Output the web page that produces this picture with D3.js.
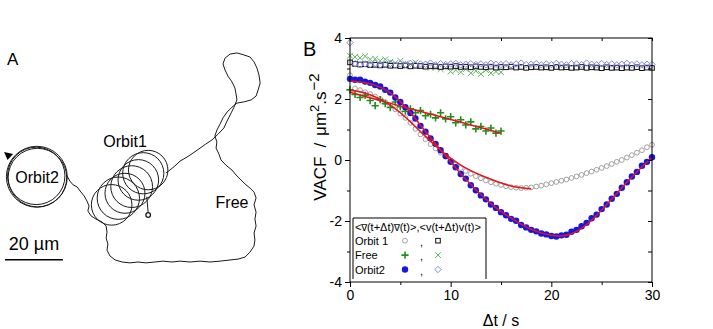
<!DOCTYPE html>
<html>
<head>
<meta charset="utf-8">
<script src="https://cdn.jsdelivr.net/npm/d3@7"></script>
<style>
  body { margin: 0; background: #fff; }
  svg { display: block; font-family: Arial, 'Liberation Sans', sans-serif; }
</style>
</head>
<body>
<div id="chart"></div>
<script>
// ---- panel A : trajectory, in µm ----
var freePath = [
  [23.1,50.3],[24.1,52.1],[25.2,53.4],[26.6,54.1],[27.6,55.5],[29.0,57.2],[30.0,59.0],[30.7,60.7],
  [30.3,62.4],[31.4,64.1],[33.1,65.2],[35.2,66.2],[36.6,67.6],[36.9,69.7],[36.6,71.7],[37.2,73.8],
  [36.9,75.9],[37.9,77.9],[39.7,79.3],[42.1,80.0],[44.8,80.3],[47.6,80.0],[50.3,80.3],[53.4,80.0],
  [56.2,79.7],[59.3,80.0],[62.1,79.7],[65.5,80.0],[69.0,79.7],[72.4,80.0],[75.9,79.7],[79.3,79.3],
  [82.1,79.0],[84.5,78.3],[86.2,76.6],[87.6,74.5],[87.9,72.4],[87.6,70.0],[88.3,67.6],[87.9,65.2],
  [88.3,62.8],[87.6,60.3],[88.3,57.9],[87.6,55.9],[86.2,54.5],[84.5,53.1],[82.8,51.4],[81.4,50.0],
  [80.0,48.3],[77.9,46.6],[76.2,44.8],[75.5,42.8],[74.5,40.7],[74.8,38.6],[74.1,36.6],[74.8,34.5],
  [75.9,32.4],[76.9,30.3],[78.3,28.3],[80.0,26.6],[81.7,25.2],[84.1,24.8],[86.6,24.1],[88.3,22.8],
  [89.0,20.7],[89.7,18.3],[89.3,15.5],[88.6,13.1],[87.6,11.0],[86.2,9.3],[84.1,8.6],[81.7,7.9],
  [79.3,8.3],[77.6,9.7],[76.9,11.7],[77.6,13.8],[78.6,15.9],[80.0,17.9],[81.0,20.0],[81.4,22.1],
  [81.7,24.1],[80.7,26.6],[79.7,28.6],[78.3,31.4],[77.2,33.8],[75.2,35.9],[73.1,37.9],[71.0,39.3],
  [68.6,41.0],[66.6,42.4],[64.5,43.8],[62.1,45.2],[60.3,46.9],[58.6,48.3],[57.2,49.3]
];
var orbit2Loops = [[12.7,50.6,10.5],[12.9,50.9,10.1],[12.5,50.3,9.9]];
var orbit1Loops = [[38.5,60.3,7.0],[40.8,58.0,7.3],[43.1,56.3,6.9],[45.4,54.0,7.2],
                   [47.7,51.7,7.0],[49.4,49.4,7.1],[51.1,48.3,6.8]];
var startPoint = [51.1,63.8];
var startStem = [[51.1,63.0],[50.6,57.5]];
var arrowHead = [[1.4,42.1],[4.5,42.8],[2.6,44.8]];
var scaleBarUm = 20;

// ---- panel B : VACF ----
var lagStep = 0.5;
var orbit1Vbar = [2.78,2.35,2.29,2.22,2.16,2.08,2.0,1.9,1.79,1.66,1.52,1.38,1.22,1.02,0.84,0.68,0.52,0.38,0.24,0.11,
  -0.02,-0.15,-0.26,-0.36,-0.45,-0.53,-0.6,-0.67,-0.73,-0.78,-0.82,-0.86,-0.89,-0.91,-0.92,-0.91,-0.9,-0.87,-0.84,-0.8,
  -0.76,-0.72,-0.68,-0.64,-0.59,-0.54,-0.49,-0.43,-0.38,-0.32,-0.26,-0.2,-0.13,-0.06,0.0,0.08,0.16,0.24,0.32,0.42,0.5];
var orbit1Vel = [3.2,3.15,3.13,3.14,3.11,3.12,3.1,3.12,3.09,3.1,3.08,3.1,3.07,3.09,3.08,3.06,3.08,3.07,3.05,3.07,
  3.06,3.08,3.05,3.06,3.04,3.07,3.05,3.04,3.06,3.03,3.05,3.04,3.06,3.03,3.05,3.02,3.04,3.05,3.03,3.04,
  3.02,3.05,3.03,3.04,3.02,3.03,3.05,3.02,3.04,3.03,3.01,3.04,3.02,3.03,3.01,3.03,3.02,3.04,3.01,3.03,3.02];
var freeVbar = [2.3,2.15,2.05,2.12,1.95,1.78,1.98,1.85,1.72,1.9,1.75,1.6,1.68,1.55,1.62,1.45,1.5,1.38,1.55,1.35,
  1.42,1.22,1.32,1.15,1.25,1.02,1.1,0.95,1.05,0.88,0.95];
var freeVel = [3.42,3.38,3.35,3.4,3.3,3.32,3.25,3.3,3.22,3.18,3.25,3.15,3.12,3.2,3.08,3.1,3.02,3.05,2.98,3.05,
  2.9,2.95,2.88,2.98,2.85,2.92,2.82,2.95,2.85,2.9,2.88];
var orbit2Vbar = [2.66,2.63,2.63,2.57,2.53,2.46,2.41,2.3,2.21,2.05,1.9,1.73,1.54,1.36,1.12,0.93,0.71,0.53,0.32,0.13,
  -0.06,-0.24,-0.46,-0.61,-0.83,-0.99,-1.16,-1.29,-1.46,-1.57,-1.71,-1.81,-1.93,-1.99,-2.13,-2.21,-2.29,-2.34,-2.41,-2.44,
  -2.49,-2.51,-2.47,-2.45,-2.35,-2.29,-2.17,-2.06,-1.91,-1.79,-1.61,-1.46,-1.27,-1.11,-0.91,-0.73,-0.54,-0.39,-0.19,-0.06,0.09];
var orbit2Vel = [3.85,3.16,3.12,3.15,3.13,3.17,3.12,3.14,3.16,3.11,3.15,3.13,3.17,3.12,3.15,3.14,3.18,3.12,3.16,3.13,
  3.15,3.17,3.12,3.14,3.16,3.13,3.15,3.12,3.17,3.14,3.13,3.16,3.12,3.15,3.18,3.13,3.14,3.16,3.12,3.15,
  3.13,3.17,3.14,3.12,3.16,3.15,3.13,3.18,3.14,3.12,3.16,3.13,3.15,3.12,3.14,3.17,3.13,3.15,3.12,3.14,3.13];

var orbit1FitT = [0,1,2,3,4,5,6,7,8,9,10,11,12,13,14,15,16,17,18];
var orbit1Fit = [2.28,2.24,2.14,1.99,1.8,1.55,1.25,0.93,0.62,0.32,0.06,-0.17,-0.35,-0.5,-0.63,-0.75,-0.85,-0.91,-0.94];
var freeFitT = [0,3,6,9,12,15];
var freeFit = [2.22,1.95,1.68,1.42,1.15,0.88];
var orbit2FitT = [0,1,2,3,4,5,6,7,8,9,10,11,12,13,14,15,16,17,18,19,20,21,22,23,24,25,26,27,28,29,30];
var orbit2Fit = [2.58,2.56,2.5,2.39,2.2,1.92,1.56,1.14,0.73,0.33,-0.06,-0.45,-0.8,-1.13,-1.43,-1.69,-1.9,-2.1,-2.27,
  -2.39,-2.47,-2.49,-2.42,-2.24,-1.97,-1.64,-1.28,-0.91,-0.56,-0.23,0.08];

var xMajor = [0, 10, 20, 30], xMinor = [5, 15, 25];
var yMajor = [-4, -2, 0, 2, 4], yMinor = [-3, -1, 1, 3];
var legendRows = ['Orbit 1', 'Free', 'Orbit2'];

var svg = d3.select('#chart').append('svg').attr('width', 713).attr('height', 329);
svg.append('rect').attr('width', 713).attr('height', 329).attr('fill', '#fff');

// ===== panel A =====
function _drawTrajectory(svg) {
  var xA = d3.scaleLinear().domain([0, 100]).range([0, 290]),
      yA = d3.scaleLinear().domain([0, 100]).range([30, 320]),
      rA = function (r) { return xA(r) - xA(0); },
      g = svg.append('g').attr('fill', 'none').attr('stroke', '#1a1a1a').attr('stroke-width', 1);

  var line = d3.line().x(function (p) { return xA(p[0]); }).y(function (p) { return yA(p[1]); });

  g.append('path').attr('d', line(freePath));

  g.selectAll('circle.o2').data(orbit2Loops).enter().append('circle')
    .attr('class', 'o2')
    .attr('cx', function (d) { return xA(d[0]); })
    .attr('cy', function (d) { return yA(d[1]); })
    .attr('r', function (d) { return rA(d[2]); });

  g.selectAll('circle.o1').data(orbit1Loops).enter().append('circle')
    .attr('class', 'o1')
    .attr('cx', function (d) { return xA(d[0]); })
    .attr('cy', function (d) { return yA(d[1]); })
    .attr('r', function (d) { return rA(d[2]); });

  g.append('path').attr('d', line(startStem));
  g.append('circle').attr('cx', xA(startPoint[0])).attr('cy', yA(startPoint[1]))
    .attr('r', 2.3).attr('stroke-width', 1.3).attr('fill', '#fff');

  svg.append('path').attr('d', line(arrowHead) + 'Z').attr('fill', '#000');

  svg.append('line')
    .attr('x1', xA(1.7)).attr('x2', xA(1.7 + scaleBarUm))
    .attr('y1', yA(79.2)).attr('y2', yA(79.2))
    .attr('stroke', '#000').attr('stroke-width', 1.6);

  svg.append('text').attr('x', xA(1.7 + scaleBarUm / 2)).attr('y', 250)
    .attr('text-anchor', 'middle').attr('font-size', 18).text(scaleBarUm + ' µm');

  svg.append('text').attr('x', 7).attr('y', 65).attr('font-size', 17).text('A');
  svg.append('text').attr('x', 125).attr('y', 147).attr('text-anchor', 'middle').attr('font-size', 16).text('Orbit1');
  svg.append('text').attr('x', 37).attr('y', 183).attr('text-anchor', 'middle').attr('font-size', 16).text('Orbit2');
  svg.append('text').attr('x', 232).attr('y', 208).attr('text-anchor', 'middle').attr('font-size', 16).text('Free');
}

// ===== panel B =====
var x = d3.scaleLinear().domain([0, 30]).range([350, 652]),
    y = d3.scaleLinear().domain([-4, 4]).range([282, 38]);

function _plusPath(s) { return 'M' + (-s) + ',0H' + s + 'M0,' + (-s) + 'V' + s; }
function _timesPath(s) { return 'M' + (-s) + ',' + (-s) + 'L' + s + ',' + s + 'M' + (-s) + ',' + s + 'L' + s + ',' + (-s); }
function _diamondPath(s) { return 'M0,' + (-s) + 'L' + s + ',0L0,' + s + 'L' + (-s) + ',0Z'; }

var markers = {
  grayCircle: function (sel) {
    sel.append('circle').attr('r', 2.4).attr('fill', '#fff').attr('stroke', '#8a8a8a').attr('stroke-width', 0.8);
  },
  square: function (sel) {
    sel.append('rect').attr('x', -2.3).attr('y', -2.3).attr('width', 4.6).attr('height', 4.6)
      .attr('fill', '#fff').attr('stroke', '#111').attr('stroke-width', 1);
  },
  plus: function (sel) {
    sel.append('path').attr('d', _plusPath(3.6)).attr('stroke', '#1f8f1f').attr('stroke-width', 1.6);
  },
  times: function (sel) {
    sel.append('path').attr('d', _timesPath(2.9)).attr('stroke', '#5cb35c').attr('stroke-width', 1);
  },
  blueDot: function (sel) {
    sel.append('circle').attr('r', 3.2).attr('fill', '#1515e6');
  },
  diamond: function (sel) {
    sel.append('path').attr('d', _diamondPath(3.2)).attr('fill', 'none').attr('stroke', '#8585ec').attr('stroke-width', 1);
  }
};

function _drawSeries(svg, values, marker) {
  svg.append('g').selectAll('g').data(values).enter().append('g')
    .attr('transform', function (d, i) { return 'translate(' + x(i * lagStep) + ',' + y(d) + ')'; })
    .call(marker);
}

function _drawFit(svg, ts, vs) {
  var line = d3.line().curve(d3.curveCatmullRom)
    .x(function (d) { return x(d[0]); }).y(function (d) { return y(d[1]); });
  svg.append('path').attr('d', line(d3.zip(ts, vs)))
    .attr('fill', 'none').attr('stroke', '#e3161b').attr('stroke-width', 1.5);
}

function _drawVacf(svg) {
  _drawSeries(svg, orbit1Vbar, markers.grayCircle);
  _drawSeries(svg, freeVbar, markers.plus);
  _drawSeries(svg, orbit2Vbar, markers.blueDot);
  _drawSeries(svg, freeVel, markers.times);
  _drawSeries(svg, orbit1Vel, markers.square);
  _drawSeries(svg, orbit2Vel, markers.diamond);

  _drawFit(svg, orbit1FitT, orbit1Fit);
  _drawFit(svg, freeFitT, freeFit);
  _drawFit(svg, orbit2FitT, orbit2Fit);
}

function _drawAxes(svg) {
  var fmt = function (d) { return String(d); };
  var axes = [
    { axis: d3.axisLeft(y).tickValues(yMajor).tickSize(5).tickFormat(fmt), tr: 'translate(350,0)' },
    { axis: d3.axisLeft(y).tickValues(yMinor).tickSize(3).tickFormat(''), tr: 'translate(350,0)' },
    { axis: d3.axisBottom(x).tickValues(xMajor).tickSize(5).tickFormat(fmt), tr: 'translate(0,282)' },
    { axis: d3.axisBottom(x).tickValues(xMinor).tickSize(3).tickFormat(''), tr: 'translate(0,282)' },
    { axis: d3.axisTop(x).tickValues(xMajor.concat(xMinor)).tickSize(-3).tickFormat(''), tr: 'translate(0,38)' },
    { axis: d3.axisRight(y).tickValues(yMajor.concat(yMinor)).tickSize(-4).tickFormat(''), tr: 'translate(652,0)' }
  ];
  axes.forEach(function (a) {
    var g = svg.append('g').attr('transform', a.tr).call(a.axis.tickSizeOuter(0).tickPadding(3));
    g.select('.domain').remove();
    g.selectAll('line').attr('stroke', '#000');
    g.selectAll('text').attr('font-size', 14).attr('font-family', 'Arial, Liberation Sans, sans-serif').attr('fill', '#000');
  });

  svg.append('rect').attr('x', 350).attr('y', 38).attr('width', 302).attr('height', 244)
    .attr('fill', 'none').attr('stroke', '#000').attr('stroke-width', 1);

  svg.append('text').attr('x', 501).attr('y', 326).attr('text-anchor', 'middle')
    .attr('font-size', 16).text('Δt / s');

  var yl = svg.append('text').attr('transform', 'translate(326,137) rotate(-90)')
    .attr('text-anchor', 'middle').attr('font-size', 17);
  yl.append('tspan').text('VACF');
  yl.append('tspan').attr('dx', 9).text('/');
  yl.append('tspan').attr('dx', 7).text('μm');
  yl.append('tspan').attr('dy', -7).attr('font-size', 13).text('2');
  yl.append('tspan').attr('dy', 7).text('.s');
  yl.append('tspan').attr('dy', -7).attr('dx', 1).attr('font-size', 15).text('\u22122');

  svg.append('text').attr('x', 303).attr('y', 56).attr('font-size', 20).text('B');
}

function _drawLegend(svg) {
  var left = 353, right = 486, top = 218, bottom = 279;
  svg.append('path')
    .attr('d', 'M' + left + ',' + bottom + 'V' + top + 'H' + right + 'V' + bottom)
    .attr('fill', 'none').attr('stroke', '#000').attr('stroke-width', 1);

  svg.append('text').attr('x', 355).attr('y', 231).attr('font-size', 11)
    .text('<v\u0305(t+Δt)v\u0305(t)>,<v(t+Δt)v(t)>');

  var rowY = d3.scalePoint().domain(legendRows).range([240.7, 269.5]);
  var pairs = [[markers.grayCircle, markers.square], [markers.plus, markers.times], [markers.blueDot, markers.diamond]];

  legendRows.forEach(function (name, i) {
    var cy = rowY(name);
    svg.append('text').attr('x', 355).attr('y', cy + 4).attr('font-size', 11).text(name);
    svg.append('g').attr('transform', 'translate(405,' + cy + ')').call(pairs[i][0]);
    svg.append('text').attr('x', 420).attr('y', cy + 5).attr('font-size', 11).text(',');
    svg.append('g').attr('transform', 'translate(438,' + cy + ')').call(pairs[i][1]);
  });
}

_drawTrajectory(svg);
_drawVacf(svg);
_drawAxes(svg);
_drawLegend(svg);
</script>
</body>
</html>
